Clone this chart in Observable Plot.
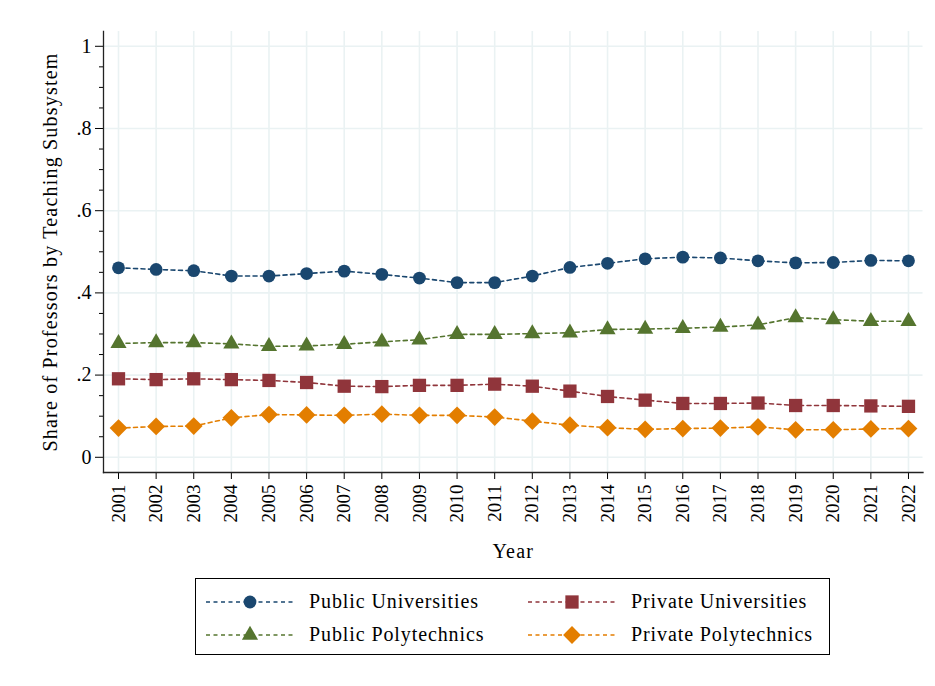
<!DOCTYPE html>
<html><head><meta charset="utf-8">
<script src="https://cdn.jsdelivr.net/npm/d3@7"></script>
<script src="https://cdn.jsdelivr.net/npm/@observablehq/plot@0.6"></script>
<style>
body{margin:0;background:#fff;font-family:"Liberation Serif","DejaVu Serif","Times New Roman",serif;color:#000;}
#legend{position:relative;margin:8px 0 0 195px;width:633px;height:75px;border:1px solid #000;}
.item{position:absolute;display:flex;align-items:center;font-size:20px;letter-spacing:0.9px;white-space:nowrap;}
.item svg{display:block;}
</style></head><body><div id="chart"></div><div id="legend"></div>
<script>
const years = [2001,2002,2003,2004,2005,2006,2007,2008,2009,2010,2011,2012,2013,2014,2015,2016,2017,2018,2019,2020,2021,2022];
const publicUniversities  = [0.461,0.457,0.454,0.441,0.441,0.447,0.453,0.445,0.436,0.425,0.425,0.441,0.462,0.472,0.483,0.487,0.485,0.478,0.473,0.474,0.479,0.478];
const privateUniversities = [0.191,0.189,0.191,0.189,0.187,0.182,0.173,0.172,0.175,0.175,0.178,0.173,0.161,0.148,0.139,0.131,0.131,0.132,0.126,0.126,0.125,0.124];
const publicPolytechnics  = [0.277,0.279,0.279,0.276,0.270,0.271,0.275,0.281,0.286,0.299,0.299,0.301,0.303,0.311,0.312,0.314,0.317,0.322,0.340,0.335,0.331,0.331];
const privatePolytechnics = [0.071,0.075,0.076,0.096,0.104,0.103,0.102,0.105,0.102,0.102,0.098,0.088,0.078,0.072,0.068,0.070,0.071,0.074,0.067,0.067,0.069,0.070];

const seriesNames   = ["Public Universities","Private Universities","Public Polytechnics","Private Polytechnics"];
const seriesValues  = [publicUniversities, privateUniversities, publicPolytechnics, privatePolytechnics];
const seriesColors  = ["#1a476f","#90353b","#55752f","#e37e00"];
const seriesSymbols = ["circle","square","triangle","diamond2"];
const seriesRadii   = [6.4,7.5,6,8];
const d3Symbols     = [d3.symbolCircle,d3.symbolSquare,d3.symbolTriangle,d3.symbolDiamond2];

const yTicks = [0,0.2,0.4,0.6,0.8,1];
const yMinorTicks = [0.05,0.1,0.15,0.25,0.3,0.35,0.45,0.5,0.55,0.65,0.7,0.75,0.85,0.9,0.95];
const yTickLabels = ["0",".2",".4",".6",".8","1"];
const xLabel = "Year";
const yLabel = "Share of Professors by Teaching Subsystem";

const grid = "#eaf2f3";
const dash = "4,3.5";
const font = "'Liberation Serif','DejaVu Serif','Times New Roman',serif";

const marks = [
  Plot.gridX({ticks: years, stroke: grid, strokeOpacity: 1, strokeWidth: 1.6}),
  Plot.gridY({ticks: yTicks, stroke: grid, strokeOpacity: 1, strokeWidth: 1.6}),
  Plot.axisY({ticks: yMinorTicks, tickSize: 4, tickFormat: () => "", label: null}),
  Plot.axisY({ticks: yTicks, tickSize: 8, tickPadding: 4, fontSize: 20, tickFormat: d => yTickLabels[yTicks.indexOf(d)], label: null}),
  Plot.axisX({ticks: years, tickSize: 7, tickPadding: 5, tickRotate: -90, tickFormat: d => String(d), label: null}),
  Plot.frame({anchor: "left", stroke: "#222", strokeWidth: 1.3}),
  Plot.frame({anchor: "bottom", stroke: "#222", strokeWidth: 1.3})
];
seriesNames.forEach((name, i) => {
  const rows = years.map((year, j) => ({year, value: seriesValues[i][j], series: name}));
  marks.push(Plot.line(rows, {x: "year", y: "value", stroke: seriesColors[i], strokeWidth: 1.6, strokeDasharray: dash}));
  marks.push(Plot.dot(rows, {x: "year", y: "value", fill: seriesColors[i], symbol: seriesSymbols[i], r: seriesRadii[i], stroke: "none"}));
});
marks.push(Plot.text([yLabel], {frameAnchor: "left", rotate: -90, dx: -53, fontSize: 20, fill: "#000", textAnchor: "middle", lineAnchor: "middle"}));
marks.push(Plot.text([xLabel], {frameAnchor: "bottom", dy: 79, fontSize: 20, fill: "#000", textAnchor: "middle", lineAnchor: "middle"}));

const chart = Plot.plot({
  width: 935, height: 570,
  marginLeft: 103, marginRight: 12.5, marginTop: 31, marginBottom: 98,
  x: {type: "linear", domain: [2000.601, 2022.386]},
  y: {domain: [-0.037, 1.036]},
  style: {fontFamily: font, fontSize: "19px", color: "#000", background: "#fff"},
  marks
});
d3.select(chart).selectAll('g[aria-label="text"] text').style("letter-spacing", "1.2px");
document.getElementById("chart").appendChild(chart);

const legend = d3.select("#legend");
const pos = [[10,22],[332,22],[10,55],[332,55]];
const textOffset = 103;
seriesNames.forEach((name, i) => {
  const item = legend.append("div").attr("class","item")
    .style("left", pos[i][0] + "px").style("top", (pos[i][1] - 11) + "px");
  const svg = item.append("svg").attr("width", textOffset).attr("height", 22);
  svg.append("line").attr("x1", 0).attr("x2", 87).attr("y1", 11).attr("y2", 11)
    .attr("stroke", seriesColors[i]).attr("stroke-width", 1.6).attr("stroke-dasharray", dash);
  svg.append("path").attr("transform", "translate(44,11)")
    .attr("d", d3.symbol(d3Symbols[i], Math.PI * seriesRadii[i] * seriesRadii[i])())
    .attr("fill", seriesColors[i]);
  item.append("span").text(name);
});
</script></body></html>
